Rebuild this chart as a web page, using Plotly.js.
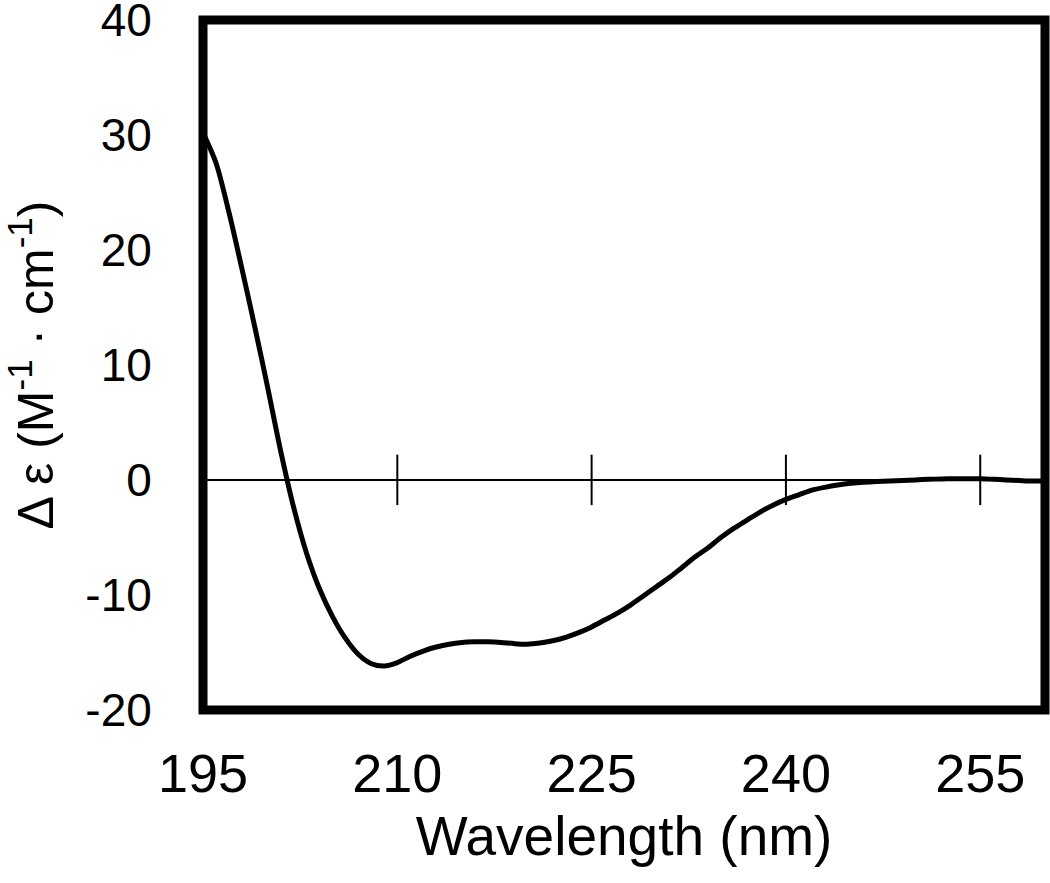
<!DOCTYPE html>
<html>
<head>
<meta charset="utf-8">
<script src="https://cdn.plot.ly/plotly-3.0.1.min.js"></script>
<style>html,body{margin:0;padding:0;background:#fff;}#chart{width:1050px;height:883px;}</style>
</head>
<body>
<div id="chart"></div>
<script>
// Wavelength (nm)
const wavelength = [195,196,197,198,199,200,201,202,203,204,205,206,207,208,209,210,211,212,213,214,215,216,217,218,219,220,221,222,223,224,225,226,227,228,229,230,231,232,233,234,235,236,237,238,239,240,241,242,243,244,245,246,247,248,249,250,251,252,253,254,255,256,257,258,259,260];
// Delta epsilon (M^-1 cm^-1)
const deltaEps = [30.2,27.6,23.3,18.4,13.3,8.0,2.5,-2.4,-6.4,-9.5,-11.9,-13.8,-15.2,-16.0,-16.2,-15.9,-15.35,-14.9,-14.55,-14.3,-14.15,-14.1,-14.1,-14.15,-14.25,-14.3,-14.2,-14.0,-13.7,-13.3,-12.8,-12.2,-11.6,-10.9,-10.1,-9.3,-8.5,-7.6,-6.7,-5.9,-5.0,-4.2,-3.5,-2.8,-2.2,-1.7,-1.3,-0.9,-0.65,-0.45,-0.3,-0.2,-0.15,-0.1,-0.05,0.0,0.05,0.08,0.1,0.1,0.1,0.05,0.0,-0.05,-0.1,-0.1];
const xTickVals = [195,210,225,240,255];
const xTickText = ['195','210','225','240','255'];
const yTickVals = [-20,-10,0,10,20,30,40];
const yTickText = ['-20','-10','0','10','20','30','40'];
const zeroTickVals = [210,225,240,255];
const zeroTickY = zeroTickVals.map(() => 0);

const curve = {
  x: wavelength, y: deltaEps, type: 'scatter', mode: 'lines',
  line: {color: '#000', width: 5, shape: 'spline', smoothing: 0.8},
  hoverinfo: 'x+y', showlegend: false
};
const zeroTicks = {
  x: zeroTickVals, y: zeroTickY, type: 'scatter', mode: 'markers',
  marker: {symbol: 'line-ns-open', size: 36, color: '#000', line: {color: '#000', width: 2}},
  hoverinfo: 'skip', showlegend: false
};

const layout = {
  width: 1050, height: 883,
  margin: {l: 203, r: 5, t: 20, b: 173, pad: 0},
  paper_bgcolor: '#fff', plot_bgcolor: '#fff',
  showlegend: false,
  xaxis: {
    range: [195, 260], tickmode: 'array', tickvals: xTickVals, ticktext: xTickText,
    showgrid: false, zeroline: false, showline: false,
    ticks: 'outside', ticklen: 16, tickcolor: 'rgba(0,0,0,0)',
    ticklabeloverflow: 'allow',
    tickfont: {family: 'Liberation Sans, Arial, sans-serif', size: 54, color: '#000'},
    title: {text: 'Wavelength (nm)', standoff: 14,
      font: {family: 'Liberation Sans, Arial, sans-serif', size: 55, color: '#000'}}
  },
  yaxis: {
    range: [-20.03, 40.03], tickmode: 'array', tickvals: yTickVals, ticktext: yTickText,
    showgrid: false, showline: false,
    zeroline: true, zerolinecolor: '#000', zerolinewidth: 2,
    ticks: 'outside', ticklen: 41, tickcolor: 'rgba(0,0,0,0)',
    ticklabeloverflow: 'allow',
    tickfont: {family: 'Liberation Sans, Arial, sans-serif', size: 46, color: '#000'},
    title: {text: 'Δ ε (M<sup>-1</sup> · cm<sup>-1</sup>)', standoff: 18,
      font: {family: 'Liberation Sans, Arial, sans-serif', size: 50, color: '#000'}}
  },
  shapes: [
    {type: 'rect', xref: 'paper', yref: 'paper', x0: 0, x1: 1, y0: 0, y1: 1,
     line: {color: '#000', width: 9}, fillcolor: 'rgba(0,0,0,0)', layer: 'above'},
    {type: 'line', xref: 'x', yref: 'paper', x0: 194.88, x1: 194.88, y0: 0.005, y1: 0.995,
     line: {color: '#bbb', width: 1}, layer: 'above'}
  ]
};

Plotly.newPlot('chart', [curve, zeroTicks], layout, {displayModeBar: false, staticPlot: true});
</script>
</body>
</html>
